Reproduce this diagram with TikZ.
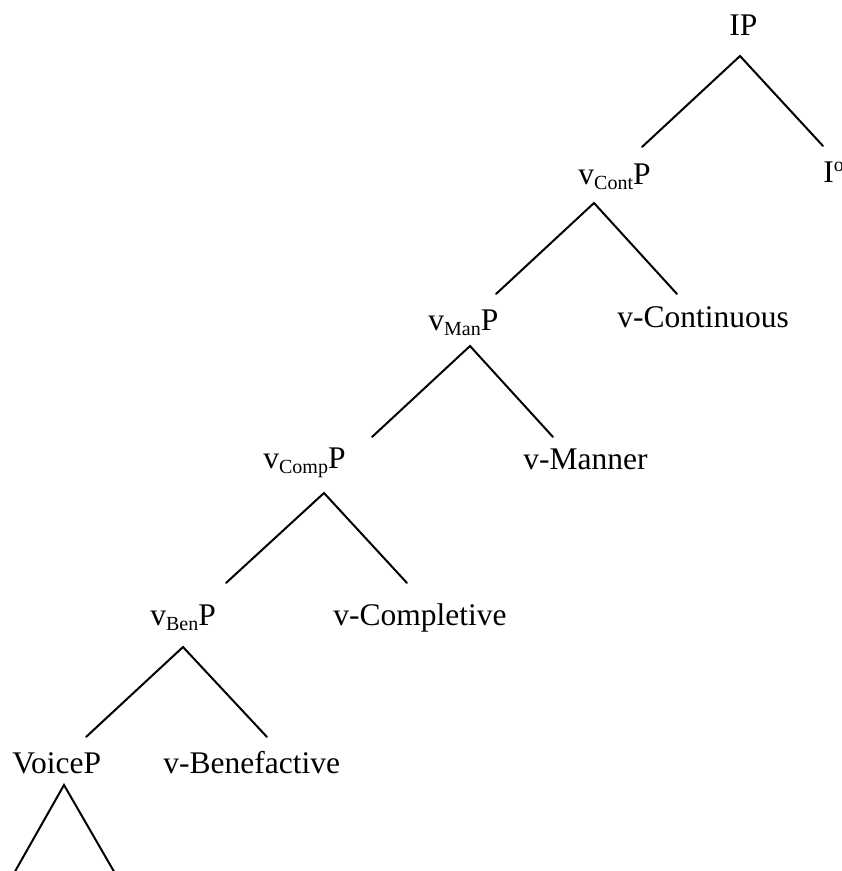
\documentclass[tikz,border=0pt]{standalone}
\usepackage{fontspec}
\setmainfont{Liberation Serif}
% small lowered / raised labels inside category names
\newcommand\lowtxt[1]{\raisebox{-2.5pt}{\fontsize{10}{12}\selectfont #1}}
\newcommand\hightxt[1]{\raisebox{5.5pt}{\fontsize{10}{12}\selectfont #1}}
\begin{document}
\begin{tikzpicture}[x=0.5pt,y=-0.5pt,
  word/.style={inner sep=0pt, anchor=base west, font=\fontsize{15.75}{18}\selectfont},
  branch/.style={line width=1pt, line cap=round, line join=miter}]
\useasboundingbox (0,0) rectangle (841,871);
\clip (0,0) rectangle (841,871);

% category labels
\node[word] (IP)     at (729,36)  {IP};
\node[word] (vCont)  at (578,185) {v\lowtxt{Cont}P};
\node[word] (Io)     at (823,183) {I\hightxt{o}};
\node[word] (vMan)   at (428,330) {v\lowtxt{Man}P};
\node[word] (vContH) at (617,328) {v-Continuous};
\node[word] (vComp)  at (263,468) {v\lowtxt{Comp}P};
\node[word] (vManH)  at (523,469) {v-Manner};
\node[word] (vBen)   at (150,625) {v\lowtxt{Ben}P};
\node[word] (vCompH) at (333,625) {v-Completive};
\node[word] (Voice)  at (12,773)  {VoiceP};
\node[word] (vBenH)  at (163,773) {v-Benefactive};

% branch points: apex under each mother, leg ends above each daughter
\coordinate (IP-a)    at (740,56);
\coordinate (IP-l)    at (642,147);
\coordinate (IP-r)    at (823,146);
\coordinate (vCont-a) at (594,203);
\coordinate (vCont-l) at (496,294);
\coordinate (vCont-r) at (677,294);
\coordinate (vMan-a)  at (470,346);
\coordinate (vMan-l)  at (372,437);
\coordinate (vMan-r)  at (553,437);
\coordinate (vComp-a) at (324,493);
\coordinate (vComp-l) at (226,583);
\coordinate (vComp-r) at (407,583);
\coordinate (vBen-a)  at (183,647);
\coordinate (vBen-l)  at (86,737);
\coordinate (vBen-r)  at (267,737);
\coordinate (Voice-a) at (64,785);
\coordinate (Voice-l) at (13,875);
\coordinate (Voice-r) at (116,875);

\draw[branch] (IP-l) -- (IP-a) -- (IP-r);
\draw[branch] (vCont-l) -- (vCont-a) -- (vCont-r);
\draw[branch] (vMan-l) -- (vMan-a) -- (vMan-r);
\draw[branch] (vComp-l) -- (vComp-a) -- (vComp-r);
\draw[branch] (vBen-l) -- (vBen-a) -- (vBen-r);
\draw[branch] (Voice-l) -- (Voice-a) -- (Voice-r);
\end{tikzpicture}
\end{document}
